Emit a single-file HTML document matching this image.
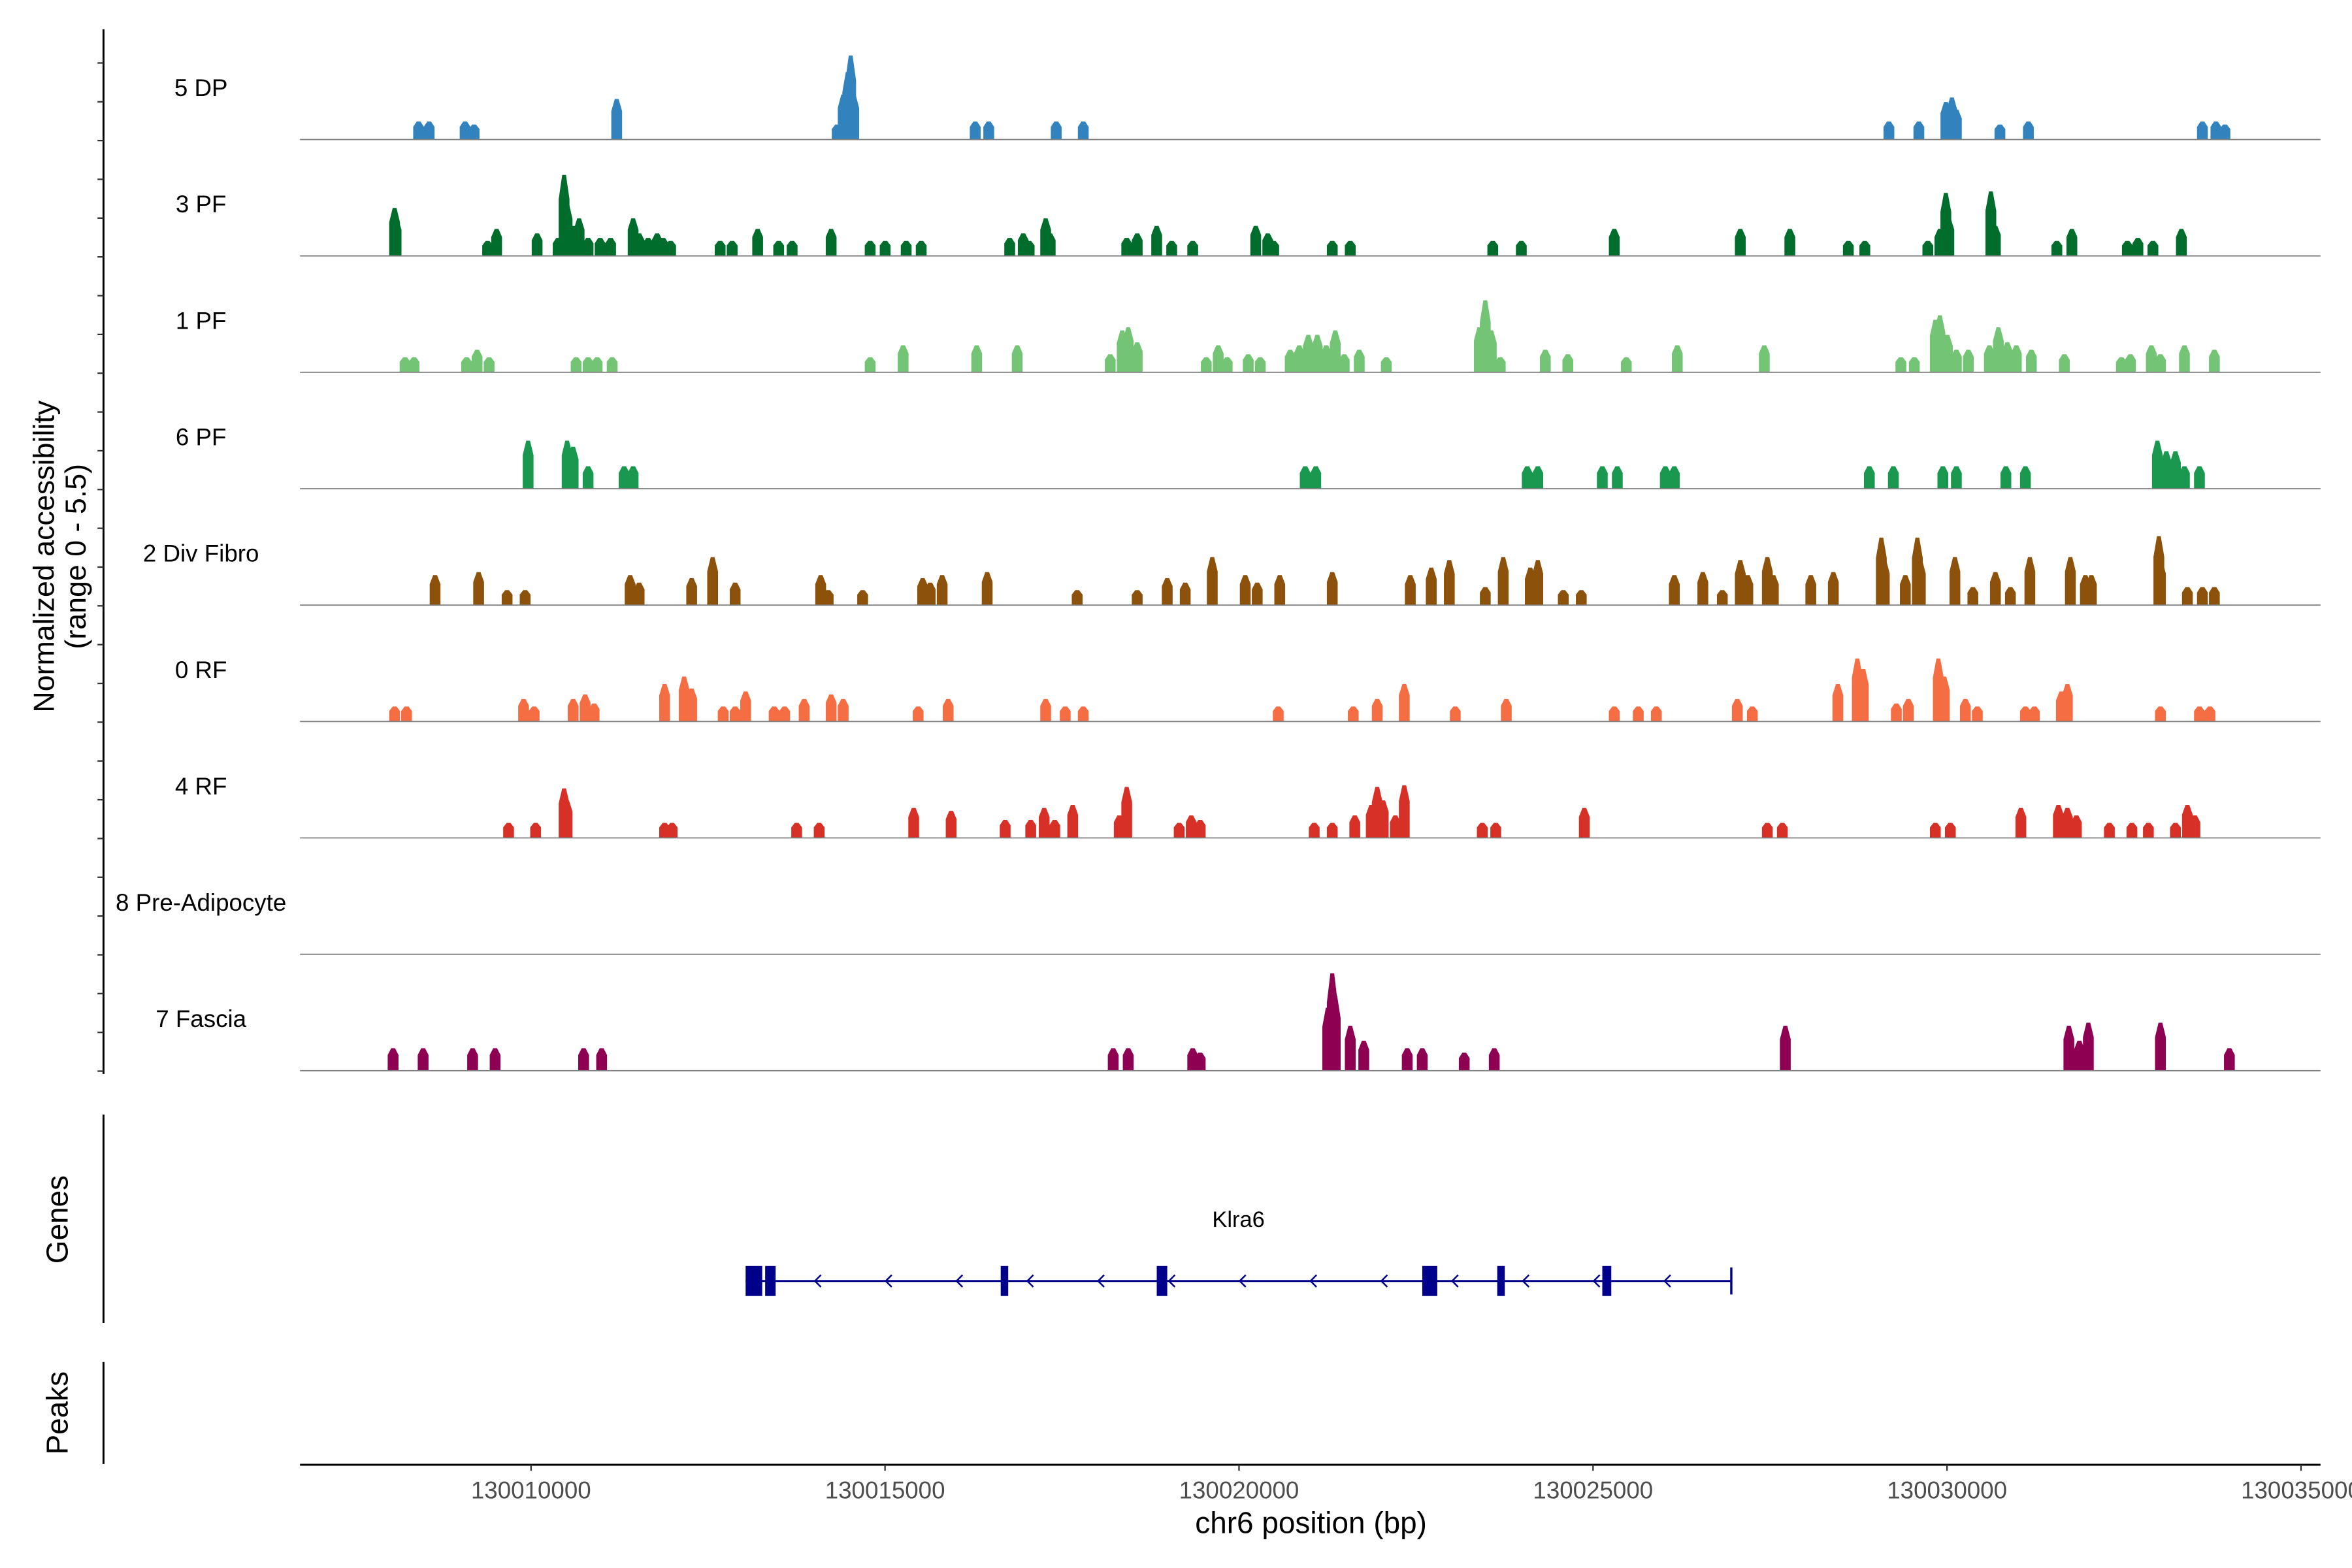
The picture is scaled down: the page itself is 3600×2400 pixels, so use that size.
<!DOCTYPE html>
<html><head><meta charset="utf-8"><style>
html,body{margin:0;padding:0;background:#fff;}
svg{display:block;font-family:"Liberation Sans",Arial,sans-serif;}
</style></head><body>
<svg id="chart" xmlns="http://www.w3.org/2000/svg" width="3600" height="2400" viewBox="0 0 1568 1045.33">
<rect x="0" y="0" width="1568" height="1045.33" fill="#fff"/>
<g id="tracks"></g>
<g id="axes"></g>
<g id="genes"></g>
<text x="0" y="0" transform="translate(36,371) rotate(-90)" text-anchor="middle" font-size="19.5" fill="#000">Normalized accessibility</text>
<text x="0" y="0" transform="translate(57,371) rotate(-90)" text-anchor="middle" font-size="19.5" fill="#000">(range 0 - 5.5)</text>
<text x="0" y="0" transform="translate(45,813) rotate(-90)" text-anchor="middle" font-size="20" fill="#000">Genes</text>
<text x="0" y="0" transform="translate(45,942) rotate(-90)" text-anchor="middle" font-size="20" fill="#000">Peaks</text>
<text x="874" y="1022" text-anchor="middle" font-size="20" fill="#000">chr6 position (bp)</text>
</svg>
<script>
const regionOffset = 130000000;
const trackNames = ["5 DP","3 PF","1 PF","6 PF","2 Div Fibro","0 RF","4 RF","8 Pre-Adipocyte","7 Fascia"];
const trackColors = ["#3182bd","#006d2c","#74c476","#1a9850","#8c510a","#f46d43","#d73027","#999999","#8e0152"];
const xTicks = [130010000,130015000,130020000,130025000,130030000,130035000];
// peak positions (bp offset from 130000000) and heights (normalized accessibility)
const dpPos = [8412,8561,9069,9196,11210,14324,14409,14473,14515,14558,16274,16465,17418,17800,29179,29602,29984,30069,30132,30747,31149,33607,33798,33925];
const dpVal = [1.2,1.2,1.2,1.0,2.7,1.0,3.0,4.5,5.6,3.0,1.2,1.2,1.2,1.2,1.2,1.2,2.5,2.8,2.0,1.0,1.2,1.2,1.2,1.0];
const pf3Pos = [8073,8094,9387,9514,10086,10383,10467,10510,10595,10679,10806,10976,11124,11442,11527,11654,11781,11866,11972,12671,12841,13201,13498,13688,14239,14790,15002,15299,15511,16761,16952,17036,17269,17333,18414,18562,18837,19049,19346,20236,20406,20490,21317,21571,23584,23987,25300,27080,27780,28606,28839,29729,29899,29983,30026,30619,30683,31551,31763,32547,32696,32908,33310];
const pf3Val = [3.2,2.5,1.0,1.8,1.5,1.2,5.4,3.5,2.0,2.5,1.2,1.2,1.2,2.5,1.5,1.2,1.5,1.2,1.0,1.0,1.0,1.8,1.0,1.0,1.8,1.0,1.0,1.0,1.0,1.2,1.5,1.0,2.5,1.5,1.2,1.5,2.0,1.0,1.0,2.0,1.5,1.0,1.0,1.0,1.0,1.0,1.8,1.8,1.8,1.0,1.0,1.0,1.8,4.2,2.5,4.3,2.0,1.0,1.8,1.0,1.2,1.0,1.8];
const pf1Pos = [8221,8348,9090,9238,9408,10637,10806,10934,11146,14790,15256,16295,16867,18181,18350,18435,18562,19537,19706,19833,20130,20300,20723,20851,20978,21105,21232,21359,21486,21698,22080,23393,23478,23563,23690,24326,24644,25470,26190,27419,29348,29538,29835,29899,30005,30132,30301,30598,30725,30852,30979,31191,31657,32463,32590,32886,33014,33353,33776];
const pf1Val = [1.0,1.0,1.0,1.5,1.0,1.0,1.0,1.0,1.0,1.0,1.8,1.8,1.8,1.2,2.8,3.0,2.0,1.0,1.8,1.0,1.2,1.0,1.5,1.8,2.5,2.5,1.8,2.8,1.2,1.5,1.0,3.0,4.8,2.8,1.0,1.5,1.2,1.0,1.8,1.8,1.0,1.0,3.5,3.8,2.5,1.5,1.5,1.8,3.0,2.0,1.8,1.5,1.2,1.0,1.2,1.8,1.2,1.8,1.5];
const pf6Pos = [9959,10510,10595,10806,11315,11442,20935,21084,24071,24220,25131,25343,26021,26148,28903,29242,29941,30132,30831,31107,32971,33098,33226,33353,33565];
const pf6Val = [3.2,3.2,2.8,1.5,1.5,1.5,1.5,1.5,1.5,1.5,1.5,1.5,1.5,1.5,1.5,1.5,1.5,1.5,1.5,1.5,3.2,2.5,2.5,1.5,1.5];
const divPos = [8645,9260,9662,9917,11400,11527,12269,12565,12883,14091,14197,14684,15532,15638,15807,16443,17714,18562,18986,19240,19622,20088,20257,20575,21317,22419,22715,22970,23478,23732,24114,24220,24580,24834,26148,26551,26826,27080,27186,27462,27547,28076,28394,29072,29114,29411,29581,29623,30111,30365,30683,30895,31170,31742,31954,32039,32992,33014,33395,33607,33776];
const divVal = [2.0,2.2,1.0,1.0,2.0,1.5,1.8,3.2,1.5,2.0,1.0,1.0,1.8,1.5,2.0,2.2,1.0,1.0,1.8,1.5,3.2,2.0,1.5,2.0,2.2,2.0,2.5,3.0,1.2,3.2,2.5,3.0,1.0,1.0,2.0,2.2,1.0,3.0,2.0,3.2,2.0,2.0,2.2,4.5,3.0,2.0,4.5,3.0,3.2,1.2,2.2,1.2,3.2,3.2,2.0,2.0,4.6,3.0,1.2,1.2,1.2];
const rf0Pos = [8073,8242,9895,10044,10595,10764,10891,11887,12163,12269,12714,12883,13031,13434,13582,13858,14239,14409,15468,15892,17269,17545,17800,20554,21613,21952,22334,23054,23775,25300,25639,25894,27038,27250,28458,28733,28818,29284,29454,29877,29962,30259,30428,31107,31234,31615,31700,33014,33565,33713];
const rf0Val = [1.0,1.0,1.5,1.0,1.5,1.8,1.2,2.5,3.0,2.2,1.0,1.0,2.0,1.0,1.0,1.5,1.8,1.5,1.0,1.5,1.5,1.0,1.0,1.0,1.0,1.5,2.5,1.0,1.5,1.0,1.0,1.0,1.5,1.0,2.5,4.2,3.5,1.2,1.5,4.2,3.0,1.5,1.0,1.0,1.0,2.0,2.5,1.0,1.0,1.0];
const rf4Pos = [9683,10065,10467,10510,11887,11993,13752,14070,15405,15934,16697,17058,17248,17397,17651,18308,18414,19155,19325,19452,21062,21317,21635,21868,21952,22037,22207,22334,23436,23626,24877,27462,27674,29835,30047,31043,31573,31700,31827,32293,32611,32844,33226,33395,33501];
const rf4Val = [1.0,1.0,3.3,2.5,1.0,1.0,1.0,1.0,2.0,1.8,1.2,1.2,2.0,1.2,2.2,1.5,3.4,1.0,1.5,1.2,1.0,1.0,1.5,2.2,3.4,2.5,1.5,3.5,1.0,1.0,2.0,1.0,1.0,1.0,1.0,2.0,2.2,2.0,1.5,1.0,1.0,1.0,1.0,2.2,1.5];
const preAdiPos = [];
const preAdiVal = [];
const fasciaPos = [8052,8476,9175,9493,10743,10997,18223,18435,19346,19452,21253,21317,21359,21571,21762,22376,22588,23181,23605,27716,31721,31869,31996,33014,33988];
const fasciaVal = [1.5,1.5,1.5,1.5,1.5,1.5,1.5,1.5,1.5,1.2,4.2,6.5,5.0,3.0,2.0,1.5,1.5,1.2,1.5,3.0,3.0,2.0,3.2,3.2,1.5];
const trackPos = [dpPos,pf3Pos,pf1Pos,pf6Pos,divPos,rf0Pos,rf4Pos,preAdiPos,fasciaPos];
const trackVal = [dpVal,pf3Val,pf1Val,pf6Val,divVal,rf0Val,rf4Val,preAdiVal,fasciaVal];
// gene model Klra6 (bp offsets)
const geneStart = 13031, geneEnd = 26953;
const exonStarts = [13031,13307,16634,18838,22588,23647,25131];
const exonEnds = [13265,13455,16740,18986,22800,23754,25258];

const NS = "http://www.w3.org/2000/svg";
const X0 = 200, X1 = 1547;
const domMin = 6737, domMax = 35275;
function xs(p){ return X0 + (p - domMin) / (domMax - domMin) * (X1 - X0); }
const trackTop = 15.4, trackH = 77.6;
function baseY(i){ return trackTop + trackH * (i + 1); }
function ys(v){ return v / 5.5 * 55; }
function mk(tag, attrs, parent){ const e = document.createElementNS(NS, tag); for (const k in attrs) e.setAttribute(k, attrs[k]); parent.appendChild(e); return e; }

const tracks = document.getElementById('tracks');
trackNames.forEach((name, i) => {
  const g = mk('g', {}, tracks);
  
  
  const b = baseY(i);
  const pos = trackPos[i], val = trackVal[i];
  pos.forEach((p, j) => {
    const cx = xs(p), h = ys(val[j]);
    const w = 3.6;
    const pts = [[cx - w, b], [cx - w, b - h * 0.7], [cx - w * 0.35, b - h], [cx + w * 0.35, b - h], [cx + w, b - h * 0.7], [cx + w, b]].map(q => q.join(',')).join(' ');
    const poly = mk('polygon', {points: pts, fill: trackColors[i]}, g);
    
    
  });
  const ln = mk('line', {x1: X0, x2: X1, y1: b, y2: b, stroke: '#808080', 'stroke-width': 0.8}, g);
  
  
  const t = mk('text', {x: 134, y: b - 29, 'text-anchor': 'middle', 'font-size': 16, fill: '#000'}, g);
  t.textContent = name;
  
  
});

const axes = document.getElementById('axes');
let a = mk('line', {x1: 69, x2: 69, y1: 19.5, y2: 716, stroke: '#000', 'stroke-width': 1.3}, axes);


for (let y = 42; y <= 716; y += 25.85) {
  const tk = mk('line', {x1: 65, x2: 69, y1: y, y2: y, stroke: '#333', 'stroke-width': 1}, axes);
  
  
}
a = mk('line', {x1: 69, x2: 69, y1: 743, y2: 882, stroke: '#000', 'stroke-width': 1.3}, axes);


a = mk('line', {x1: 69, x2: 69, y1: 908, y2: 976, stroke: '#000', 'stroke-width': 1.3}, axes);


a = mk('line', {x1: X0, x2: X1, y1: 976.5, y2: 976.5, stroke: '#000', 'stroke-width': 1.3}, axes);


xTicks.forEach(v => {
  const x = xs(v - regionOffset);
  const tk = mk('line', {x1: x, x2: x, y1: 976.5, y2: 980.5, stroke: '#333', 'stroke-width': 1}, axes);
  
  
  const t = mk('text', {x: x, y: 999, 'text-anchor': 'middle', 'font-size': 16, fill: '#4d4d4d'}, axes);
  t.textContent = String(v);
  
  
});

const genes = document.getElementById('genes');
const gy = 854;
let gl = mk('line', {x1: xs(geneStart), x2: xs(geneEnd), y1: gy, y2: gy, stroke: '#00008b', 'stroke-width': 1.3}, genes);


gl = mk('line', {x1: xs(geneEnd), x2: xs(geneEnd), y1: gy - 9, y2: gy + 9, stroke: '#00008b', 'stroke-width': 1.5}, genes);


for (let p = geneStart + 1000; p < geneEnd; p += 1000) {
  const x = xs(p);
  const ar = mk('polyline', {points: `${x+3},${gy-4} ${x-1},${gy} ${x+3},${gy+4}`, fill: 'none', stroke: '#00008b', 'stroke-width': 1.1}, genes);
  
  
}
exonStarts.forEach((s, k) => {
  const x1 = xs(s), x2 = xs(exonEnds[k]);
  const r = mk('rect', {x: x1, y: gy - 10, width: Math.max(x2 - x1, 4), height: 20, fill: '#00008b'}, genes);
  
  
});
const gt = mk('text', {x: (xs(geneStart) + xs(geneEnd)) / 2, y: 818, 'text-anchor': 'middle', 'font-size': 15, fill: '#000'}, genes);
gt.textContent = 'Klra6';


</script>
</body></html>
